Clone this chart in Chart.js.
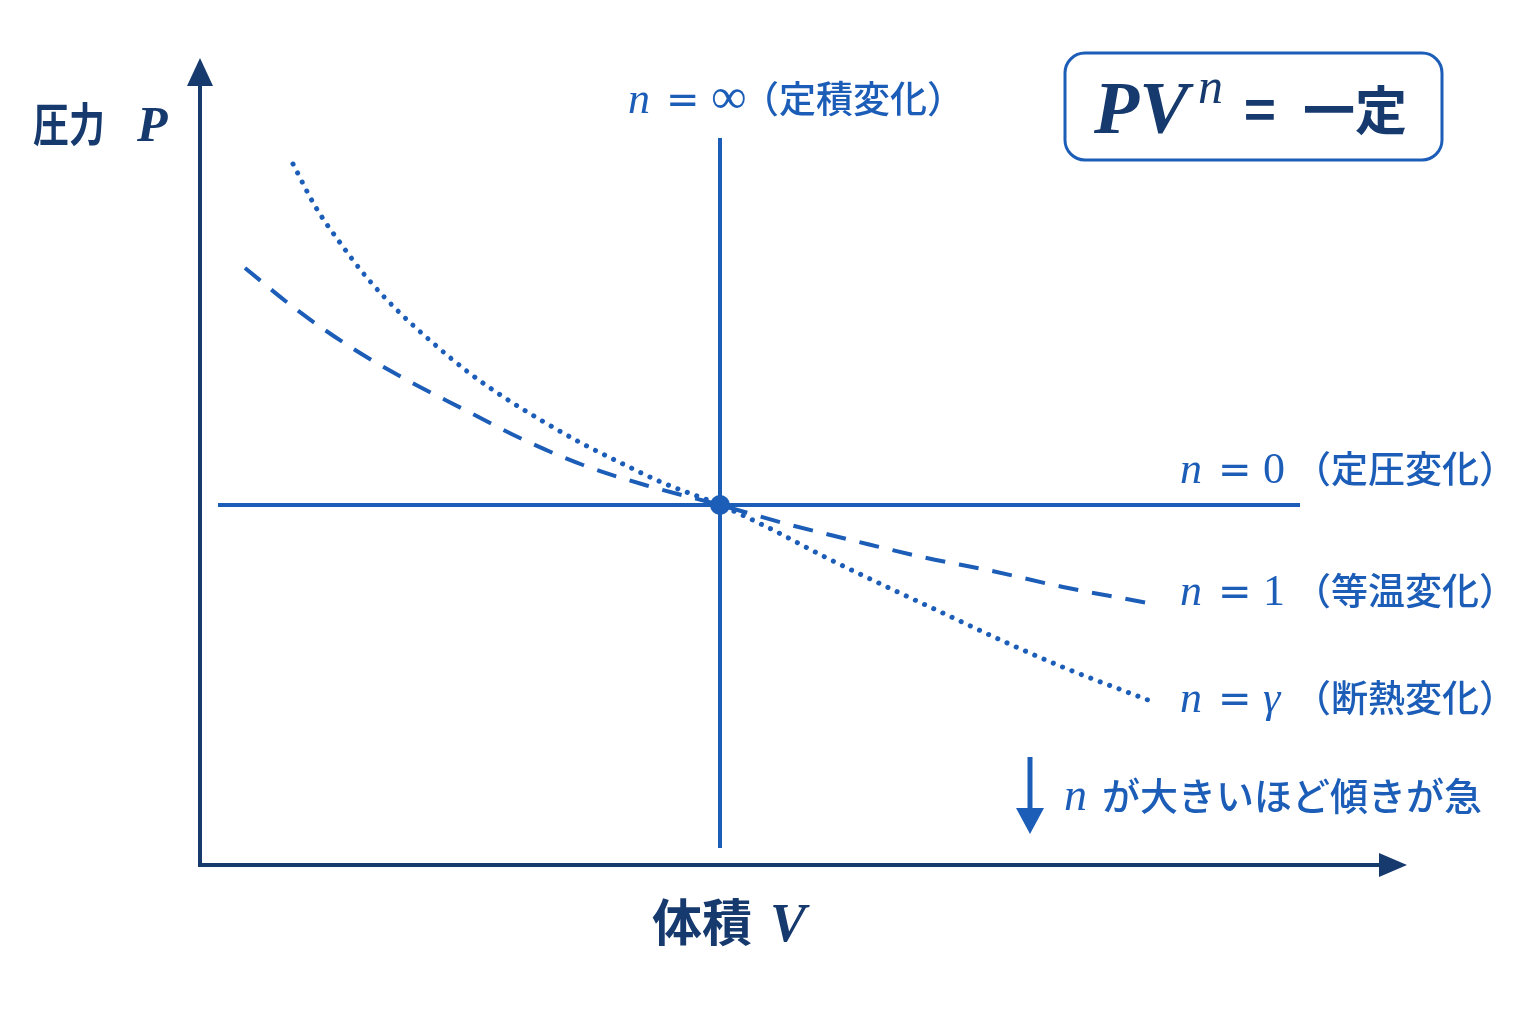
<!DOCTYPE html>
<html lang="ja">
<head>
<meta charset="utf-8">
<title>ポリトロープ変化 PV^n = 一定</title>
<script src="https://cdn.jsdelivr.net/npm/chart.js@4.4.1/dist/chart.umd.min.js"></script>
<style>
  html, body { margin: 0; padding: 0; background: #ffffff; }
  #pv { display: block; }
</style>
</head>
<body>
<canvas id="pv" width="1536" height="1024"></canvas>
<script>
// values (V, P in arbitrary units)
const isoV = [0.45, 0.97, 1.52, 2.07, 2.65, 3.24, 3.83, 4.45, 5.2, 5.87, 6.55, 7.22, 7.92, 8.63, 9.48];
const isoP = [5.97, 5.55, 5.17, 4.85, 4.55, 4.25, 4.00, 3.80, 3.60, 3.41, 3.24, 3.08, 2.94, 2.78, 2.62];

const adiV = [0.93, 1.15, 1.41, 1.68, 1.99, 2.33, 2.68, 3.05, 3.44, 3.83, 4.21, 4.61, 5.2, 5.67, 6.25, 6.85, 7.45, 8.05, 8.65, 9.27, 9.48];
const adiP = [7.01, 6.59, 6.21, 5.86, 5.53, 5.22, 4.93, 4.67, 4.43, 4.21, 4.02, 3.83, 3.60, 3.38, 3.08, 2.79, 2.51, 2.23, 1.97, 1.73, 1.65];

const isobarV = [0.18, 11.0];
const isobarP = [3.6, 3.6];

const isochorV = [5.2, 5.2];
const isochorP = [0.17, 7.27];

const stateV = [5.2];
const stateP = [3.6];

const BLUE = '#1c5db8';
const NAVY = '#16396e';

function toPoints(xs, ys) {
  return xs.map(function(x, i) { return { x: x, y: ys[i] }; });
}

// each piece: [text, font, color, dx, dy, scaleX]
function drawPieces(ctx, x, y, pieces) {
  ctx.textBaseline = 'alphabetic';
  ctx.textAlign = 'left';
  pieces.forEach(function(p) {
    ctx.save();
    ctx.font = p[1];
    ctx.fillStyle = p[2];
    ctx.translate(x + p[3], y + (p[4] || 0));
    if (p[5]) ctx.scale(p[5], 1);
    ctx.fillText(p[0], 0, 0);
    ctx.restore();
  });
}

const serifI = function(s) { return 'italic ' + s + 'px "Liberation Serif", "DejaVu Serif", serif'; };
const serifBI = function(s) { return 'italic bold ' + s + 'px "Liberation Serif", "DejaVu Serif", serif'; };
const serif = function(s) { return s + 'px "Liberation Serif", "DejaVu Serif", serif'; };
const sans = function(s, w) { return (w || 400) + ' ' + s + 'px "DejaVu Sans", sans-serif'; };
const cjk = function(s, w) { return (w || 500) + ' ' + s + 'px "Noto Sans CJK JP", sans-serif'; };

const bgPlugin = {
  id: 'bg',
  beforeDraw: function(chart) {
    const ctx = chart.ctx;
    ctx.save();
    ctx.fillStyle = '#ffffff';
    ctx.fillRect(0, 0, chart.width, chart.height);
    ctx.restore();
  }
};

const decorPlugin = {
  id: 'decor',
  afterDatasetsDraw: function(chart) {
    const ctx = chart.ctx;
    const xs = chart.scales.x, ys = chart.scales.y;
    const x0 = xs.getPixelForValue(0), y0 = ys.getPixelForValue(0);
    const xEnd = xs.getPixelForValue(12.07), yEnd = ys.getPixelForValue(8.07);

    ctx.save();
    // axes with arrow heads
    ctx.strokeStyle = NAVY;
    ctx.fillStyle = NAVY;
    ctx.lineWidth = 4;
    ctx.beginPath();
    ctx.moveTo(x0, y0 + 2);
    ctx.lineTo(x0, yEnd + 24);
    ctx.moveTo(x0 - 2, y0);
    ctx.lineTo(xEnd - 24, y0);
    ctx.stroke();
    ctx.beginPath();
    ctx.moveTo(x0, yEnd);
    ctx.lineTo(x0 - 13, yEnd + 28);
    ctx.lineTo(x0 + 13, yEnd + 28);
    ctx.closePath();
    ctx.fill();
    ctx.beginPath();
    ctx.moveTo(xEnd, y0);
    ctx.lineTo(xEnd - 28, y0 - 12);
    ctx.lineTo(xEnd - 28, y0 + 12);
    ctx.closePath();
    ctx.fill();

    // axis titles
    drawPieces(ctx, 33, 141, [['圧力', cjk(46, 700), NAVY, 0, 0, 0.78], ['P', serifBI(50), NAVY, 104]]);
    drawPieces(ctx, 652, 941, [['体積', cjk(50, 700), NAVY, 0], ['V', serifBI(54), NAVY, 118]]);

    // curve labels
    const lab = function(x, y, sym, symFont, name) {
      drawPieces(ctx, x, y, [
        ['n', serifI(44), BLUE, 0],
        ['=', sans(40), BLUE, 38],
        [sym, symFont, BLUE, 83],
        [name, cjk(37), BLUE, 114]
      ]);
    };
    lab(628, 113, '∞', serif(50), '（定積変化）');
    lab(1180, 483, '0', serif(44), '（定圧変化）');
    lab(1180, 605, '1', serif(44), '（等温変化）');
    lab(1180, 712, 'γ', serifI(44), '（断熱変化）');

    // trend note with arrow
    ctx.strokeStyle = BLUE;
    ctx.fillStyle = BLUE;
    ctx.lineWidth = 5;
    ctx.beginPath();
    ctx.moveTo(1030, 757);
    ctx.lineTo(1030, 812);
    ctx.stroke();
    ctx.beginPath();
    ctx.moveTo(1030, 834);
    ctx.lineTo(1016, 808);
    ctx.lineTo(1044, 808);
    ctx.closePath();
    ctx.fill();
    drawPieces(ctx, 1064, 810, [['n', serifI(46), BLUE, 0], ['が大きいほど傾きが急', cjk(38), BLUE, 38]]);

    // formula box
    ctx.lineWidth = 3;
    ctx.strokeStyle = BLUE;
    ctx.beginPath();
    ctx.roundRect(1065, 53, 377, 107, 20);
    ctx.stroke();
    drawPieces(ctx, 1094, 133, [
      ['PV', serifBI(74), NAVY, 0],
      ['n', serifI(50), NAVY, 104, -30],
      ['=', cjk(54, 700), NAVY, 150, -3],
      ['一定', cjk(52, 700), NAVY, 209, -3]
    ]);
    ctx.restore();
  }
};

const ctx = document.getElementById('pv').getContext('2d');
new Chart(ctx, {
  type: 'line',
  data: {
    datasets: [
      {
        label: '状態点',
        data: toPoints(stateV, stateP),
        showLine: false,
        pointRadius: 10,
        pointBackgroundColor: BLUE,
        pointBorderWidth: 0,
        order: 0
      },
      {
        label: 'n = 0',
        data: toPoints(isobarV, isobarP),
        borderColor: BLUE,
        borderWidth: 4,
        pointRadius: 0,
        order: 1
      },
      {
        label: 'n = ∞',
        data: toPoints(isochorV, isochorP),
        borderColor: BLUE,
        borderWidth: 4,
        pointRadius: 0,
        order: 1
      },
      {
        label: 'n = 1',
        data: toPoints(isoV, isoP),
        borderColor: BLUE,
        borderWidth: 4,
        borderDash: [20, 14],
        cubicInterpolationMode: 'monotone',
        pointRadius: 0,
        order: 1
      },
      {
        label: 'n = γ',
        data: toPoints(adiV, adiP),
        borderColor: BLUE,
        borderWidth: 5,
        borderDash: [0.1, 10],
        borderCapStyle: 'round',
        cubicInterpolationMode: 'monotone',
        pointRadius: 0,
        order: 1
      }
    ]
  },
  options: {
    responsive: false,
    animation: false,
    devicePixelRatio: 1,
    clip: false,
    layout: { padding: { left: 200, right: 136, top: 65, bottom: 159 } },
    plugins: {
      legend: { display: false },
      tooltip: { enabled: false }
    },
    scales: {
      x: { type: 'linear', min: 0, max: 12, display: false },
      y: { type: 'linear', min: 0, max: 8, display: false }
    }
  },
  plugins: [bgPlugin, decorPlugin]
});
</script>
</body>
</html>
